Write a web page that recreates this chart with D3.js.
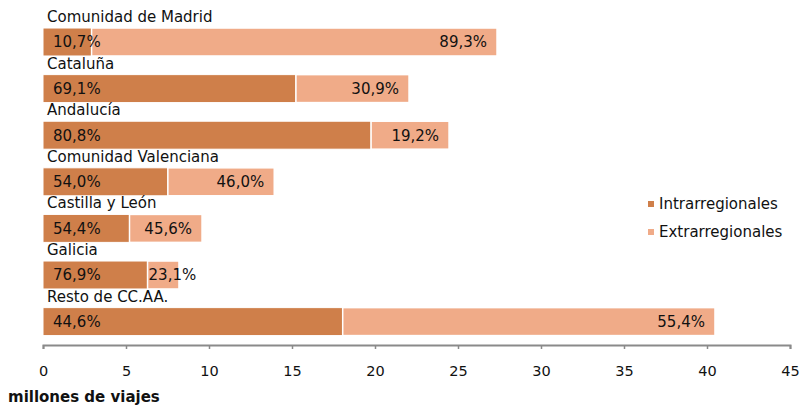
<!DOCTYPE html>
<meta charset="utf-8">
<style>
body { margin: 0; background: #fff; }
text { font-family: "DejaVu Sans", Verdana, sans-serif; fill: #111; }
.domain { stroke: #8a8a8a; stroke-width: 2px; }
.tick line { stroke: #8a8a8a; stroke-width: 1.5px; }
</style>
<body>
<script src="https://d3js.org/d3.v7.min.js"></script>
<script>
var width = 802,
    height = 411;

// comunidades, total de viajes (millones) y % intrarregional
var regions = ["Comunidad de Madrid", "Cataluña", "Andalucía", "Comunidad Valenciana",
               "Castilla y León", "Galicia", "Resto de CC.AA."];
var totals = [27.35, 22.05, 24.46, 13.93, 9.58, 8.19, 40.48];
var intraPct = [10.7, 69.1, 80.8, 54.0, 54.4, 76.9, 44.6];
var extraPct = [89.3, 30.9, 19.2, 46.0, 45.6, 23.1, 55.4];
var seriesNames = ["Intrarregionales", "Extrarregionales"];
var colors = ["#cf7f4a", "#f0ab88"];
var xTicks = [0, 5, 10, 15, 20, 25, 30, 35, 40, 45];

var rows = regions.map(function(r, i) {
  var intra = totals[i] * intraPct[i] / 100;
  return {name: r, intra: intra, extra: totals[i] - intra, pi: intraPct[i], pe: extraPct[i]};
});

var svg = d3.select("body").append("svg")
    .attr("width", width)
    .attr("height", height);

var x = d3.scaleLinear().domain([0, 45]).range([43, 790]);
var step = 46.6;
var y = d3.scaleBand().domain(regions)
    .range([18.7, 18.7 + step * regions.length])
    .paddingInner(0.4).paddingOuter(0.2);

var fmt = function(v) { return d3.format(".1f")(v).replace(".", ",") + "%"; };

var g = svg.selectAll("g.row")
    .data(rows)
  .enter().append("g")
    .attr("class", "row")
    .attr("transform", function(d) { return "translate(0," + y(d.name) + ")"; });

g.append("rect")
    .attr("x", x(0))
    .attr("width", function(d) { return x(d.intra) - x(0); })
    .attr("height", y.bandwidth())
    .style("fill", colors[0])
    .style("stroke", "#fff")
    .style("stroke-width", 1);

g.append("rect")
    .attr("x", function(d) { return x(d.intra); })
    .attr("width", function(d) { return x(d.intra + d.extra) - x(d.intra); })
    .attr("height", y.bandwidth())
    .style("fill", colors[1])
    .style("stroke", "#fff")
    .style("stroke-width", 1.5);

g.append("text")
    .attr("x", x(0) + 4)
    .attr("y", -6)
    .style("font-size", "15px")
    .text(function(d) { return d.name; });

g.append("text")
    .attr("x", x(0) + 10)
    .attr("y", y.bandwidth() / 2)
    .attr("dy", "0.36em")
    .style("font-size", "15px")
    .text(function(d) { return fmt(d.pi); });

g.append("text")
    .attr("y", y.bandwidth() / 2)
    .attr("dy", "0.36em")
    .style("font-size", "15px")
    .text(function(d) { return fmt(d.pe); })
    .each(function(d) {
      var w = this.getComputedTextLength();
      var x0 = x(d.intra), x1 = x(d.intra + d.extra);
      if (x1 - x0 - 20 >= w) {
        d3.select(this).attr("x", x1 - 10).attr("text-anchor", "end");
      } else {
        d3.select(this).attr("x", x0 + 1);
      }
    });

var axis = svg.append("g")
    .attr("transform", "translate(0,345)")
    .call(d3.axisBottom(x).tickValues(xTicks).tickSize(4).tickSizeOuter(4));
axis.selectAll(".tick text")
    .attr("y", 20.5)
    .style("font-size", "14.5px")
    .style("font-family", "DejaVu Sans, Verdana, sans-serif")
    .style("fill", "#111");

svg.append("text")
    .attr("x", 8)
    .attr("y", 402)
    .style("font-size", "15px")
    .style("font-weight", "bold")
    .text("millones de viajes");

var legend = svg.selectAll("g.leg")
    .data(seriesNames)
  .enter().append("g")
    .attr("class", "leg")
    .attr("transform", function(d, i) { return "translate(648," + (204 + i * 28) + ")"; });
legend.append("rect")
    .attr("y", -3)
    .attr("width", 6)
    .attr("height", 6)
    .style("fill", function(d, i) { return colors[i]; });
legend.append("text")
    .attr("x", 11)
    .attr("dy", "0.36em")
    .style("font-size", "15px")
    .text(function(d) { return d; });
</script>
</body>
</html>
